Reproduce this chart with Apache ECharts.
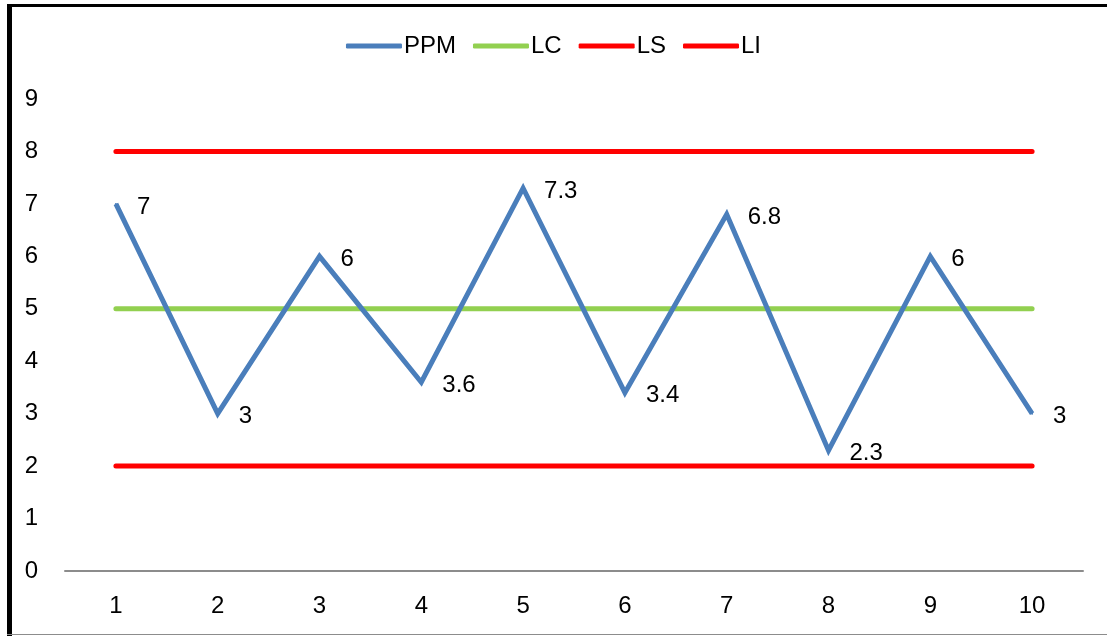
<!DOCTYPE html>
<html>
<head>
<meta charset="utf-8">
<script src="https://cdn.jsdelivr.net/npm/echarts@6/dist/echarts.min.js"></script>
<style>
  html, body { margin: 0; padding: 0; background: #fff; }
  #chart { width: 1107px; height: 636px; }
</style>
</head>
<body>
<div id="chart"></div>
<script>
// Sample numbers along the x axis
const categories = ['1', '2', '3', '4', '5', '6', '7', '8', '9', '10'];
// Measured PPM per sample
const ppm = [7, 3, 6, 3.6, 7.3, 3.4, 6.8, 2.3, 6, 3];
// Control limits: centre line, upper and lower limits
const lcValue = 5;
const lsValue = 8;
const liValue = 2;

const lc = categories.map(() => lcValue);
const ls = categories.map(() => lsValue);
const li = categories.map(() => liValue);

const FONT = 'Liberation Sans, Arial, sans-serif';
const FS = 24;
const colors = { ppm: '#4A7EBB', lc: '#92D050', ls: '#FF0000', li: '#FF0000' };

const chart = echarts.init(document.getElementById('chart'), null, { renderer: 'canvas' });

function limitSeries(name, data, color) {
  return {
    name: name,
    type: 'line',
    data: data,
    showSymbol: false,
    symbol: 'none',
    lineStyle: { color: color, width: 5, cap: 'round' },
    itemStyle: { color: color },
    silent: true,
    z: 2
  };
}

chart.setOption({
  animation: false,
  backgroundColor: '#fff',
  legend: {
    top: 29,
    left: 'center',
    itemWidth: 56,
    itemHeight: 5,
    itemGap: 17,
    icon: 'roundRect',
    textStyle: { fontFamily: FONT, fontSize: FS, color: '#000', padding: [0, 0, 0, -3] },
    data: [
      { name: 'PPM', itemStyle: { color: colors.ppm, opacity: 1 } },
      { name: 'LC', itemStyle: { color: colors.lc } },
      { name: 'LS', itemStyle: { color: colors.ls } },
      { name: 'LI', itemStyle: { color: colors.li } }
    ]
  },
  grid: { left: 65, right: 24, top: 99, bottom: 65 },
  xAxis: {
    type: 'category',
    data: categories,
    boundaryGap: true,
    axisLine: { lineStyle: { color: '#8c8c8c', width: 2 } },
    axisTick: { show: false },
    axisLabel: { fontFamily: FONT, fontSize: FS, color: '#000', margin: 23 }
  },
  yAxis: {
    type: 'value',
    min: 0,
    max: 9,
    interval: 1,
    axisLine: { show: false },
    axisTick: { show: false },
    splitLine: { show: false },
    axisLabel: { fontFamily: FONT, fontSize: FS, color: '#000', margin: 27 }
  },
  graphic: [
    { type: 'rect', shape: { x: 7, y: 4, width: 1100, height: 3 }, style: { fill: '#000' }, silent: true },
    { type: 'rect', shape: { x: 7, y: 4, width: 5, height: 632 }, style: { fill: '#000' }, silent: true },
    { type: 'rect', shape: { x: 7, y: 634, width: 1100, height: 1 }, style: { fill: '#8c8c8c' }, silent: true }
  ],
  series: [
    limitSeries('LC', lc, colors.lc),
    limitSeries('LS', ls, colors.ls),
    limitSeries('LI', li, colors.li),
    {
      name: 'PPM',
      type: 'line',
      data: ppm,
      showSymbol: true,
      showAllSymbol: true,
      symbol: 'circle',
      symbolSize: 2,
      lineStyle: { color: colors.ppm, width: 5, join: 'miter' },
      itemStyle: { color: colors.ppm },
      label: {
        show: true,
        position: 'right',
        distance: 20,
        offset: [0, 3],
        fontFamily: FONT,
        fontSize: FS,
        color: '#000'
      },
      z: 3
    }
  ]
});
</script>
</body>
</html>
